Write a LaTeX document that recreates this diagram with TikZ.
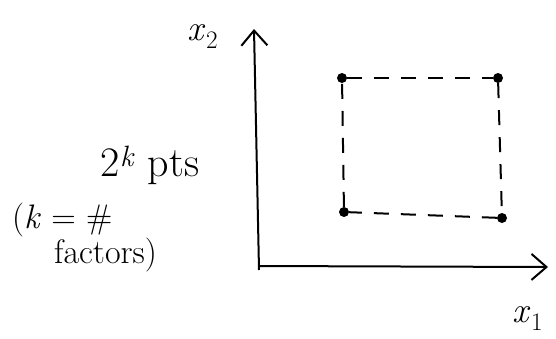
\documentclass[tikz,border=0pt]{standalone}
\usetikzlibrary{arrows.meta}
\begin{document}
\begin{tikzpicture}[x=1pt,y=-1pt,
  axis/.style={line width=2pt,-{Straight Barb[length=15pt,width=26pt,line width=2pt]}},
  dashline/.style={line width=2pt,dash pattern=on 15pt off 12pt},
  pt/.style={circle,fill=black,inner sep=0pt,minimum size=10pt},
  lbl/.style={inner sep=0pt,font=\fontsize{36}{40}\selectfont},
  txt/.style={inner sep=0pt,font=\fontsize{34}{36}\selectfont}]
\useasboundingbox (0,0) rectangle (556,338);
\coordinate (o) at (259,270);
\coordinate (ytop) at (254,29);
\coordinate (xs) at (258,266);
\coordinate (xend) at (548,267);
\draw[axis] (o) -- (ytop);
\draw[axis] (xs) -- (xend);
\node[pt] (tl) at (342,78) {};
\node[pt] (tr) at (498,78) {};
\node[pt] (bl) at (344,212) {};
\node[pt] (br) at (502,218) {};
\draw[dashline] (tl) -- (tr);
\draw[dashline] (tr) -- (br);
\draw[dashline] (br) -- (bl);
\draw[dashline] (bl) -- (tl);
\node[lbl,anchor=base] (x2) at (203,40) {\textit{x}\textsubscript{2}};
\node[lbl,anchor=base] (x1) at (528,322) {\textit{x}\textsubscript{1}};
\node[inner sep=0pt,font=\fontsize{42}{46}\selectfont,anchor=base] (pts) at (150,176) {2\textsuperscript{\textit{k}} pts};
\node[txt,anchor=base west] (k1) at (12,228) {(\textit{k} = \#};
\node[txt,anchor=base west] (k2) at (54,263) {factors)};
\end{tikzpicture}
\end{document}
